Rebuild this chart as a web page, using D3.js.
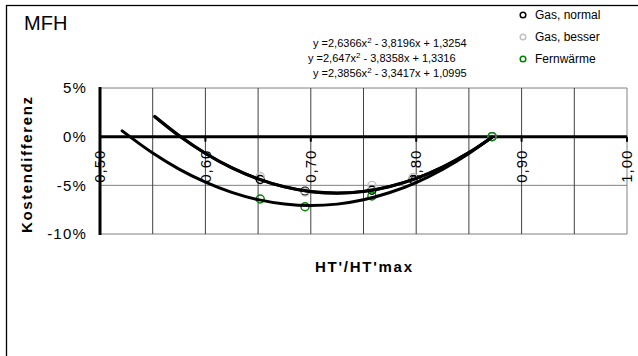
<!DOCTYPE html>
<html><head><meta charset="utf-8">
<script src="https://cdn.jsdelivr.net/npm/d3@7"></script>
<style>body{margin:0;background:#fff}svg{display:block;font-family:"Liberation Sans",Arial,sans-serif}</style>
</head><body>
<svg id="c" width="638" height="356"></svg>
<script>
// ---- data ----
const seriesNames = ["Gas, normal", "Gas, besser", "Fernwärme"];
const seriesColors = ["#000000", "#c0c0c0", "#008000"];
const gasX = [0.652, 0.6945, 0.758, 0.797, 0.872];
const gasNormalY = [-4.4, -5.6, -5.5, -4.4, 0.0];
const gasBesserY = [-4.1, -5.7, -5.0, -4.2, 0.0];
const fernX = [0.652, 0.6945, 0.758, 0.872];
const fernY = [-6.4, -7.2, -6.1, 0.0];
// trendlines
const trendGasX = [0.552, 0.575, 0.60, 0.625, 0.65, 0.675, 0.70, 0.725, 0.75, 0.775, 0.80, 0.825, 0.85, 0.872];
const trendGasNormalY = [2.04, 0.08, -1.72, -3.20, -4.33, -5.15, -5.64, -5.79, -5.62, -5.12, -4.29, -3.13, -1.64, -0.05];
const trendGasBesserY = [2.08, 0.12, -1.70, -3.18, -4.33, -5.16, -5.65, -5.81, -5.64, -5.12, -4.29, -3.13, -1.64, -0.05];
const trendFernX = [0.521, 0.55, 0.575, 0.60, 0.625, 0.65, 0.675, 0.70, 0.725, 0.75, 0.775, 0.80, 0.825, 0.85, 0.872];
const trendFernY = [0.60, -1.68, -3.33, -4.67, -5.72, -6.47, -6.92, -7.08, -6.93, -6.49, -5.74, -4.71, -3.37, -1.73, -0.05];
const equations = [["y =2,6366x", " - 3,8196x + 1,3254"], ["y =2,647x", " - 3,8358x + 1,3316"], ["y =2,3856x", " - 3,3417x + 1,0995"]];
const yTicks = [5, 0, -5, -10];
const xGrid = [0.5, 0.55, 0.6, 0.65, 0.7, 0.75, 0.8, 0.85, 0.9, 0.95, 1.0];
const xTickLabels = [0.5, 0.6, 0.7, 0.8, 0.9, 1.0];

const svg = d3.select("#c");
const x = d3.scaleLinear().domain([0.5, 1.0]).range([100, 627]);
const y = d3.scaleLinear().domain([-10, 5]).range([234, 88]);

// outer border
svg.append("rect").attr("x", 6.5).attr("y", 5.5).attr("width", 700).attr("height", 400)
  .attr("fill", "none").attr("stroke", "#000").attr("stroke-width", 1.3);

svg.append("text").attr("x", 24).attr("y", 30).attr("font-size", 20).text("MFH");

// plot area border & grid
const g = svg.append("g");
g.selectAll("line.hg").data(yTicks).join("line")
  .attr("x1", x(0.5)).attr("x2", x(1.0)).attr("y1", d => y(d)).attr("y2", d => y(d))
  .attr("stroke", "#808080").attr("stroke-width", 1);
g.selectAll("line.vg").data(xGrid).join("line")
  .attr("x1", d => x(d)).attr("x2", d => x(d)).attr("y1", y(5)).attr("y2", y(-10))
  .attr("stroke", d => d === 1.0 ? "#808080" : "#404040").attr("stroke-width", 1);

// zero axis
g.append("line").attr("x1", x(0.5)).attr("x2", x(1.0)).attr("y1", y(0)).attr("y2", y(0))
  .attr("stroke", "#000").attr("stroke-width", 3);
g.selectAll("line.tk").data(xTickLabels.slice(1)).join("line")
  .attr("x1", d => x(d)).attr("x2", d => x(d)).attr("y1", y(0)).attr("y2", y(0) + 5)
  .attr("stroke", "#000").attr("stroke-width", 2);
// y axis
g.append("line").attr("x1", x(0.5)).attr("x2", x(0.5)).attr("y1", y(5) - 1).attr("y2", y(-10) + 1)
  .attr("stroke", "#000").attr("stroke-width", 3);

// y tick labels
g.selectAll("text.yt").data(yTicks).join("text")
  .attr("x", 87).attr("y", d => y(d)).attr("dy", "0.35em").attr("text-anchor", "end")
  .attr("font-size", 15).attr("letter-spacing", "1.2px")
  .text(d => d + "%");

// x tick labels (rotated)
g.selectAll("text.xt").data(xTickLabels).join("text")
  .attr("transform", d => `translate(${x(d)},${y(0) + 13}) rotate(-90)`)
  .attr("dy", "0.35em").attr("text-anchor", "end")
  .attr("font-size", 15).attr("letter-spacing", "1px")
  .text(d => d.toFixed(2).replace(".", ","));

// axis titles
svg.append("text").attr("transform", `translate(32,165) rotate(-90)`)
  .attr("text-anchor", "middle").attr("font-size", 15).attr("font-weight", "bold")
  .attr("textLength", 136).attr("lengthAdjust", "spacing").text("Kostendifferenz");
svg.append("text").attr("x", 363.5).attr("y", 272).attr("text-anchor", "middle")
  .attr("font-size", 15).attr("font-weight", "bold")
  .attr("textLength", 97).attr("lengthAdjust", "spacing").text("HT'/HT'max");

// markers
const markerSets = [
  {xs: gasX, ys: gasNormalY, c: seriesColors[0]},
  {xs: gasX, ys: gasBesserY, c: seriesColors[1]},
  {xs: fernX, ys: fernY, c: seriesColors[2]}
];
markerSets.forEach(s => {
  g.append("g").selectAll("circle").data(s.xs.map((v, i) => [v, s.ys[i]])).join("circle")
    .attr("cx", d => x(d[0])).attr("cy", d => y(d[1])).attr("r", 4)
    .attr("fill", "none").attr("stroke", s.c).attr("stroke-width", 1.4);
});

// trendlines
const line = d3.line().x(d => x(d[0])).y(d => y(d[1])).curve(d3.curveMonotoneX);
[[trendGasX, trendGasNormalY], [trendGasX, trendGasBesserY], [trendFernX, trendFernY]].forEach(([xs, ys]) => {
  g.append("path").datum(xs.map((v, i) => [v, ys[i]])).attr("d", line)
    .attr("fill", "none").attr("stroke", "#000").attr("stroke-width", 3)
    .attr("stroke-linecap", "round");
});

// equations
const eqX = [313, 308, 313], eqY = [47, 62, 77];
equations.forEach((e, i) => {
  const t = svg.append("text").attr("x", eqX[i]).attr("y", eqY[i]).attr("font-size", 11);
  t.append("tspan").text(e[0]);
  t.append("tspan").attr("dy", -4).attr("font-size", 8).text("2");
  t.append("tspan").attr("dy", 4).text(e[1]);
});

// legend
const legY = [15, 37, 59];
seriesNames.forEach((n, i) => {
  svg.append("circle").attr("cx", 523).attr("cy", legY[i]).attr("r", 2.8)
    .attr("fill", "none").attr("stroke", seriesColors[i]).attr("stroke-width", 1.5);
  svg.append("text").attr("x", 535).attr("y", legY[i]).attr("dy", "0.35em")
    .attr("font-size", 12).text(n);
});
</script>
</body></html>
